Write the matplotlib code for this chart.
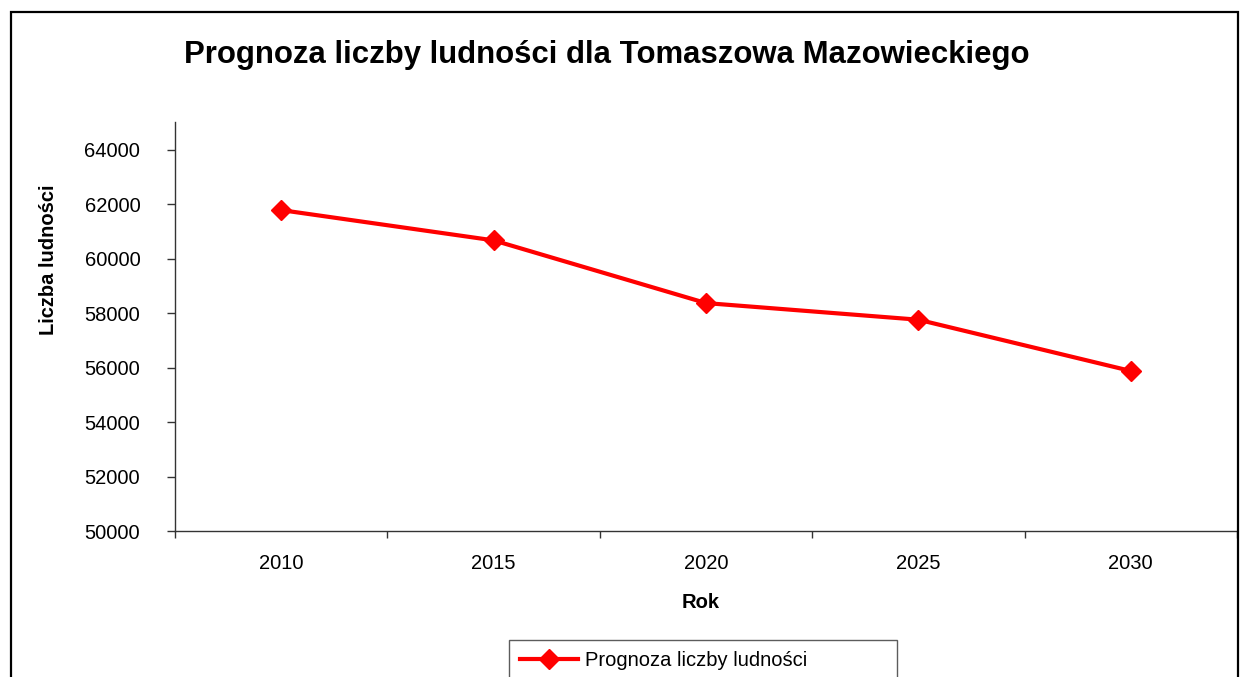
import numpy as np
import matplotlib
matplotlib.use('Agg')
import matplotlib.pyplot as plt
from matplotlib.patches import Rectangle

plt.rcParams['font.family'] = ['Liberation Sans', 'DejaVu Sans']

# data
years = ['2010', '2015', '2020', '2025', '2030']
population = [61780, 60670, 58370, 57760, 55880]
y_ticks = [50000, 52000, 54000, 56000, 58000, 60000, 62000, 64000]

W, H = 1243, 677
fig = plt.figure(figsize=(W / 100, H / 100), dpi=100)

# outer chart frame (bottom runs past the image)
fig.patches.append(Rectangle((11 / W, -0.1), (1238 - 11) / W, 1 - 12 / H + 0.1,
                             transform=fig.transFigure, fill=False,
                             edgecolor='black', linewidth=1.6, zorder=0))

ax = fig.add_axes([175 / W, 1 - 531.3 / H, 1062 / W, 409 / H])
x = np.arange(len(years))
line, = ax.plot(x, population, color='#ff0000', linewidth=3, marker='D',
                markersize=10, clip_on=False, label='Prognoza liczby ludności')

ax.set_xlim(-0.5, len(years) - 0.5)
ax.set_ylim(50000, 65000)
ax.set_yticks(y_ticks)
ax.set_yticklabels([str(v) for v in y_ticks])
ax.set_xticks(x)
ax.set_xticklabels(years)
ax.set_xticks(np.arange(-0.5, len(years)), minor=True)

for side in ('top', 'right'):
    ax.spines[side].set_visible(False)
for side in ('left', 'bottom'):
    ax.spines[side].set_color('#333333')
    ax.spines[side].set_linewidth(1.0)

ax.tick_params(axis='y', direction='out', length=6, width=1, color='#333333',
               pad=19, labelsize=14.5)
ax.tick_params(axis='x', which='major', length=0, pad=16.5, labelsize=14.5)
ax.tick_params(axis='x', which='minor', direction='out', length=5, width=1,
               color='#333333')

ax.set_ylabel('Liczba ludności', fontsize=14.5, fontweight='bold')
ax.yaxis.set_label_coords((58 - 175) / 1062, (531.3 - 260) / 409)
ax.set_xlabel('Rok', fontsize=14.5, fontweight='bold')
ax.xaxis.set_label_coords((701 - 175) / 1062, (531.3 - 593) / 409)

fig.text(607 / W, 1 - 63 / H, 'Prognoza liczby ludności dla Tomaszowa Mazowieckiego',
         ha='center', va='baseline', fontsize=22.4, fontweight='bold')

leg = ax.legend(handles=[line], loc='upper left', mode='expand',
                bbox_to_anchor=(509 / W, 1 - 640 / H - 0.2, 388 / W, 0.2),
                bbox_transform=fig.transFigure, fontsize=14.5, frameon=True,
                fancybox=False, borderpad=0.55, handlelength=2.9,
                handletextpad=0.3, borderaxespad=0)
leg.get_frame().set_edgecolor('#333333')
leg.get_frame().set_linewidth(1.0)

fig.savefig('out.png', dpi=100)
